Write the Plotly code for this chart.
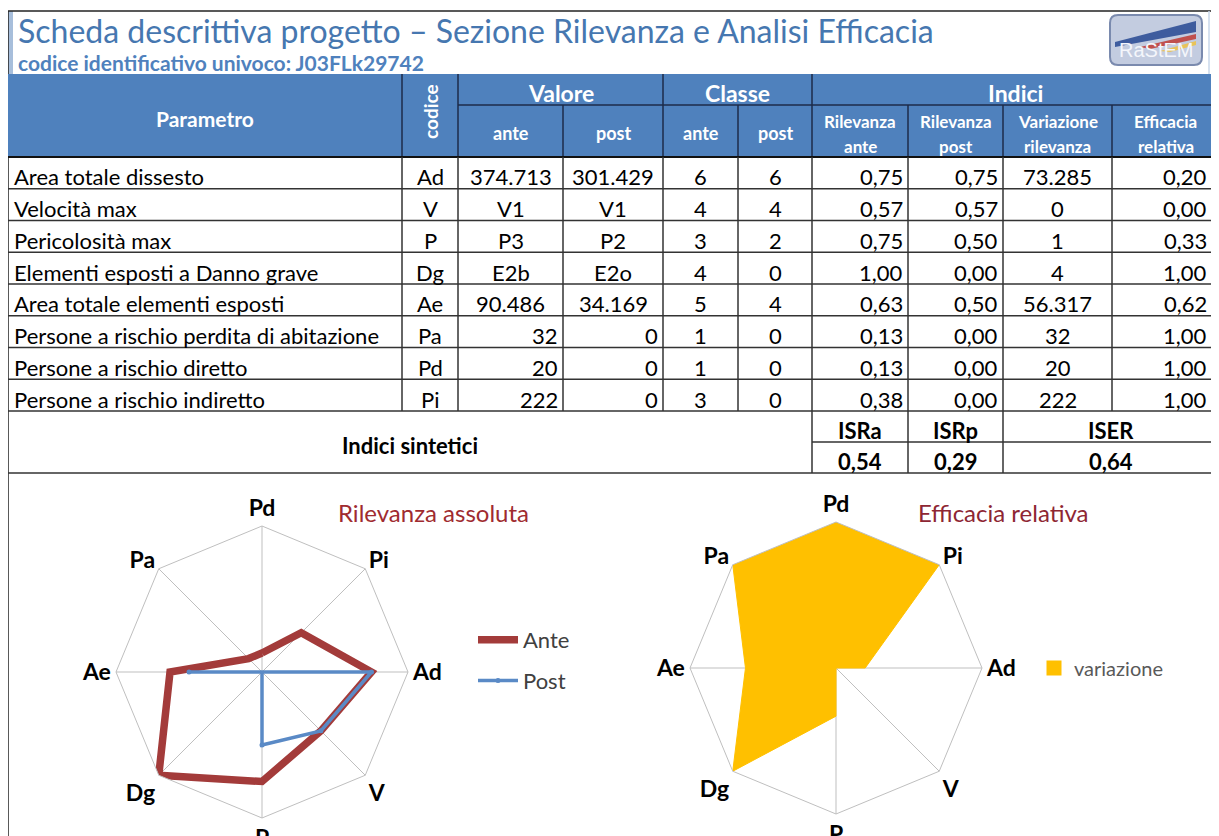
import plotly.graph_objects as go

W, H = 1219, 836          # reference picture size
OFF = 8                   # page body margin of the html page
FW, FH = W - OFF, H - OFF  # figure size so that the page fits the window
F = "Lato"

# ---------------- data ----------------
title_text = "Scheda descrittiva progetto – Sezione Rilevanza e Analisi Efficacia"
subtitle_text = "codice identificativo univoco: J03FLk29742"

params = ["Area totale dissesto", "Velocità max", "Pericolosità max",
          "Elementi esposti a Danno grave", "Area totale elementi esposti",
          "Persone a rischio perdita di abitazione", "Persone a rischio diretto",
          "Persone a rischio indiretto"]
codes = ["Ad", "V", "P", "Dg", "Ae", "Pa", "Pd", "Pi"]
valore_ante = ["374.713", "V1", "P3", "E2b", "90.486", "32", "20", "222"]
valore_post = ["301.429", "V1", "P2", "E2o", "34.169", "0", "0", "0"]
classe_ante = [6, 4, 3, 4, 5, 1, 1, 3]
classe_post = [6, 4, 2, 0, 4, 0, 0, 0]
ril_ante = [0.75, 0.57, 0.75, 1.00, 0.63, 0.13, 0.13, 0.38]
ril_post = [0.75, 0.57, 0.50, 0.00, 0.50, 0.00, 0.00, 0.00]
variazione = ["73.285", "0", "1", "4", "56.317", "32", "20", "222"]
efficacia = [0.20, 0.00, 0.33, 1.00, 0.62, 1.00, 1.00, 1.00]
sint_labels = ["ISRa", "ISRp", "ISER"]
sint_values = [0.54, 0.29, 0.64]

radar_order = ["Pd", "Pi", "Ad", "V", "P", "Dg", "Ae", "Pa"]


def fmt(v):
    return f"{v:.2f}".replace(".", ",")


# ---------------- geometry (pixels of the reference) ----------------
L, R = 8, W
cols = [8, 402, 458, 563, 663, 738, 812, 908, 1003, 1112, 1219]
h_top, h_mid, h_bot = 74, 105, 157
row_h = (411 - h_bot) / 8
s_mid, s_bot = 442, 473

HEAD_BLUE = "#4F81BD"
HEAD_LINE = "#1C2B4A"
GRID = "#333333"

shapes = []
ann = []


def line(x0, y0, x1, y1, color=GRID, width=1.5):
    shapes.append(dict(type="line", xref="x", yref="y", x0=x0, y0=y0, x1=x1, y1=y1,
                       line=dict(color=color, width=width)))


def text(x, y, t, size=22, color="#000000", bold=False, xanchor="center", angle=0, family=F):
    ann.append(dict(x=x, y=y, xref="x", yref="y", text=t, showarrow=False,
                    xanchor=xanchor, yanchor="middle", textangle=angle,
                    font=dict(family=family, size=size, color=color,
                              weight="bold" if bold else "normal")))


# title block
shapes.append(dict(type="rect", xref="x", yref="y", x0=8, x1=13, y0=11, y1=74,
                   fillcolor="#A7BEDB", line=dict(width=0)))
line(8, 11, 8, 836, "#222222", 1.5)
line(8, 11, R, 11, "#222222", 1.5)
line(1209, 11, 1209, 74, "#C9D7EA", 1.5)
text(16, 30, title_text, size=32, color="#4677B0", xanchor="left")
text(16, 62, subtitle_text, size=21, color="#4F81BD", bold=True, xanchor="left")

# logo
shapes.append(dict(type="path", xref="x", yref="y",
                   path="M 1118 15 L 1194 15 Q 1202 15 1202 23 L 1202 57 Q 1202 65 1194 65 "
                        "L 1118 65 Q 1110 65 1110 57 L 1110 23 Q 1110 15 1118 15 Z",
                   fillcolor="#C3CCE0", line=dict(color="#7A8AAE", width=2)))
shapes.append(dict(type="path", xref="x", yref="y",
                   path="M 1115 42 L 1196 21 L 1196 32 L 1115 47 Z",
                   fillcolor="#3E5C9E", line=dict(width=0)))
shapes.append(dict(type="path", xref="x", yref="y",
                   path="M 1140 47 L 1196 34 L 1196 39 L 1150 49 Z",
                   fillcolor="#C0504D", line=dict(width=0)))
shapes.append(dict(type="path", xref="x", yref="y",
                   path="M 1160 51 L 1196 41 L 1196 45 L 1170 52 Z",
                   fillcolor="#E8C35A", line=dict(width=0)))
text(1156, 50, "RaStEM", size=20, color="#F4F6FB", family="Liberation Sans")

# header
shapes.append(dict(type="rect", xref="x", yref="y", x0=L, x1=R, y0=h_top, y1=h_bot,
                   fillcolor=HEAD_BLUE, line=dict(width=0)))
line(cols[2], h_mid, R, h_mid, HEAD_LINE)
for c in cols[1:-1]:
    full = c in (cols[1], cols[2], cols[4], cols[6])
    line(c, h_top if full else h_mid, c, h_bot, HEAD_LINE)
line(L, h_bot, R, h_bot, "#111111", 2)

W_ = "#FFFFFF"
text((cols[0] + cols[1]) / 2, 118, "Parametro", 21, W_, True)
text((cols[1] + cols[2]) / 2, 112, "codice", 19, W_, True, angle=-90)
text((cols[2] + cols[4]) / 2, 93, "Valore", 23, W_, True)
text((cols[4] + cols[6]) / 2, 93, "Classe", 23, W_, True)
text((cols[6] + cols[10]) / 2, 93, "Indici", 23, W_, True)
for k, t in zip(range(2, 6), ["ante", "post", "ante", "post"]):
    text((cols[k] + cols[k + 1]) / 2, 133, t, 18, W_, True)
for k, (t1, t2) in zip(range(6, 10), [("Rilevanza", "ante"), ("Rilevanza", "post"),
                                      ("Variazione", "rilevanza"), ("Efficacia", "relativa")]):
    xc = (cols[k] + cols[k + 1]) / 2
    text(xc, 121, t1, 17, W_, True)
    text(xc, 146, t2, 17, W_, True)

# body rows
for i in range(8):
    y0 = h_bot + i * row_h
    yc = y0 + row_h / 2 + 4
    line(L, y0 + row_h, R, y0 + row_h, GRID, 1.5)
    text(cols[0] + 4, yc, params[i], xanchor="left")
    text((cols[1] + cols[2]) / 2, yc, codes[i])
    for k, v in ((2, valore_ante[i]), (3, valore_post[i])):
        if v.isdigit():
            text(cols[k + 1] - 3, yc, v, xanchor="right")
        else:
            text((cols[k] + cols[k + 1]) / 2, yc, v)
    text((cols[4] + cols[5]) / 2, yc, str(classe_ante[i]))
    text((cols[5] + cols[6]) / 2, yc, str(classe_post[i]))
    text(cols[7] - 3, yc, fmt(ril_ante[i]), xanchor="right")
    text(cols[8] - 3, yc, fmt(ril_post[i]), xanchor="right")
    text((cols[8] + cols[9]) / 2, yc, variazione[i])
    text(cols[10] - 10, yc, fmt(efficacia[i]), xanchor="right")
for c in cols[1:-1]:
    line(c, h_bot, c, h_bot + 8 * row_h, GRID, 1.5)

# synthetic indices
line(cols[6], s_mid, R, s_mid, GRID, 1.5)
line(L, s_bot, R, s_bot, GRID, 1.5)
for c in (cols[6], cols[7], cols[8]):
    line(c, 411, c, s_bot, GRID, 1.5)
text((cols[0] + cols[6]) / 2, 445, "Indici sintetici", 22, "#000", True)
sx = [(cols[6] + cols[7]) / 2, (cols[7] + cols[8]) / 2, (cols[8] + cols[10]) / 2]
for x, lab, v in zip(sx, sint_labels, sint_values):
    text(x, 430, lab, 22, "#000", True)
    text(x, 461, fmt(v), 22, "#000", True)

# chart titles
text(433, 512, "Rilevanza assoluta", 24, "#A02B30")
text(1003, 512, "Efficacia relativa", 24, "#8E2633")

# ---------------- radar traces ----------------
idx = {c: i for i, c in enumerate(codes)}
ante_r = [ril_ante[idx[c]] for c in radar_order]
post_r = [ril_post[idx[c]] for c in radar_order]
eff_r = [efficacia[idx[c]] for c in radar_order]
theta = radar_order + radar_order[:1]

fig = go.Figure()
fig.add_trace(go.Scatterpolar(r=eff_r + eff_r[:1], theta=theta, mode="lines", fill="toself",
                              fillcolor="#FFC000", line=dict(color="#FFC000", width=1),
                              subplot="polar2", showlegend=False, name="variazione"))
fig.add_trace(go.Scatterpolar(r=ante_r + ante_r[:1], theta=theta, mode="lines",
                              line=dict(color="#A33B3A", width=7.5), name="Ante",
                              subplot="polar", legend="legend", legendgroup="a"))
fig.add_trace(go.Scatterpolar(r=post_r + post_r[:1], theta=theta, mode="lines+markers",
                              line=dict(color="#5A8AC6", width=3.5),
                              marker=dict(size=5, color="#5A8AC6"), name="Post",
                              subplot="polar", legend="legend", legendgroup="b"))
fig.add_trace(go.Scatter(x=[None], y=[None], mode="markers", name="variazione",
                         marker=dict(symbol="square", size=15, color="#FFC000"),
                         legend="legend2", xaxis="x", yaxis="y"))


def px_x(x):
    return (x - OFF) / FW


def px_y(y):
    return (H - y) / FH


def polar(cx, cy, r):
    angular = dict(type="category", categoryorder="array", categoryarray=radar_order,
                   rotation=90, direction="clockwise", showgrid=True, gridcolor="#BFBFBF",
                   gridwidth=1, showline=True, linecolor="#BFBFBF", linewidth=1, ticks="",
                   tickfont=dict(family=F, size=23, color="#000000", weight="bold"))
    return dict(domain=dict(x=[px_x(cx - r), px_x(cx + r)],
                            y=[px_y(cy + r), px_y(cy - r)]),
                bgcolor="rgba(0,0,0,0)", gridshape="linear",
                radialaxis=dict(range=[0, 1], visible=False),
                angularaxis=angular)


fig.update_layout(
    width=FW, height=FH, margin=dict(l=0, r=0, t=0, b=0),
    paper_bgcolor="#FFFFFF", plot_bgcolor="rgba(0,0,0,0)",
    xaxis=dict(range=[OFF, W], visible=False, fixedrange=True, domain=[0, 1]),
    yaxis=dict(range=[H, OFF], visible=False, fixedrange=True, domain=[0, 1]),
    polar=polar(262, 672, 146),
    polar2=polar(836, 668, 146),
    shapes=shapes, annotations=ann,
    legend=dict(x=px_x(473), y=px_y(619), xanchor="left", yanchor="top",
                font=dict(family=F, size=22, color="#404040"), bgcolor="rgba(0,0,0,0)",
                tracegroupgap=9, itemwidth=40),
    legend2=dict(x=px_x(1034), y=px_y(668), xanchor="left", yanchor="middle",
                 font=dict(family=F, size=20, color="#595959"), bgcolor="rgba(0,0,0,0)",
                 itemwidth=30),
    showlegend=True,
)

fig.write_html("out.html")
